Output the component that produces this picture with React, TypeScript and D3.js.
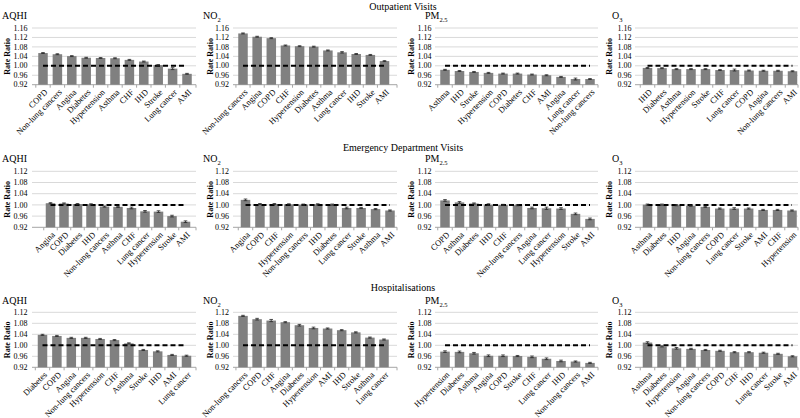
import React from "react";
import * as d3 from "d3";

// ---------- Data ----------
const rowTitles = ["Outpatient Visits", "Emergency Department Visits", "Hospitalisations"];
const pollutants = ["AQHI", "NO2", "PM2.5", "O3"];
const ticksRow1 = [0.92, 0.96, 1.0, 1.04, 1.08, 1.12, 1.16];
const ticksRow23 = [0.92, 0.96, 1.0, 1.04, 1.08, 1.12];

// Outpatient visits
const opAqhiCats = ["COPD", "Non-lung cancers", "Angina", "Diabetes", "Hypertension", "Asthma", "CHF", "IHD", "Stroke", "Lung cancer", "AMI"];
const opAqhiVals = [1.054, 1.049, 1.041, 1.034, 1.033, 1.032, 1.025, 1.018, 1.003, 0.988, 0.966];
const opAqhiErr = [0.002, 0.002, 0.002, 0.002, 0.002, 0.002, 0.002, 0.002, 0.002, 0.004, 0.002];

const opNo2Cats = ["Non-lung cancers", "Angina", "COPD", "CHF", "Hypertension", "Diabetes", "Asthma", "Lung cancer", "IHD", "Stroke", "AMI"];
const opNo2Vals = [1.137, 1.123, 1.117, 1.086, 1.083, 1.081, 1.065, 1.057, 1.050, 1.046, 1.020];
const opNo2Err = [0.002, 0.002, 0.002, 0.002, 0.002, 0.002, 0.002, 0.003, 0.002, 0.002, 0.002];

const opPm25Cats = ["Asthma", "IHD", "Stroke", "Hypertension", "COPD", "Diabetes", "CHF", "AMI", "Angina", "Lung cancer", "Non-lung cancers"];
const opPm25Vals = [0.983, 0.978, 0.974, 0.970, 0.967, 0.967, 0.963, 0.960, 0.953, 0.944, 0.944];
const opPm25Err = [0.002, 0.002, 0.002, 0.002, 0.002, 0.002, 0.002, 0.002, 0.002, 0.004, 0.002];

const opO3Cats = ["IHD", "Diabetes", "Asthma", "Hypertension", "Stroke", "CHF", "Lung cancer", "COPD", "Angina", "Non-lung cancers", "AMI"];
const opO3Vals = [0.991, 0.990, 0.986, 0.986, 0.986, 0.982, 0.982, 0.980, 0.979, 0.979, 0.977];
const opO3Err = [0.002, 0.002, 0.002, 0.002, 0.002, 0.002, 0.004, 0.002, 0.002, 0.002, 0.002];

// Emergency department visits
const edAqhiCats = ["Angina", "COPD", "Diabetes", "IHD", "Non-lung cancers", "Asthma", "CHF", "Lung cancer", "Hypertension", "Stroke", "AMI"];
const edAqhiVals = [1.006, 1.005, 1.003, 1.002, 0.994, 0.993, 0.989, 0.977, 0.976, 0.960, 0.940];
const edAqhiErr = [0.002, 0.002, 0.002, 0.002, 0.002, 0.002, 0.003, 0.003, 0.003, 0.003, 0.003];

const edNo2Cats = ["Angina", "COPD", "CHF", "Hypertension", "Non-lung cancers", "IHD", "Diabetes", "Lung cancer", "Stroke", "Asthma", "AMI"];
const edNo2Vals = [1.018, 1.003, 1.003, 1.002, 1.001, 1.002, 1.001, 0.989, 0.989, 0.985, 0.980];
const edNo2Err = [0.003, 0.002, 0.002, 0.002, 0.002, 0.002, 0.002, 0.003, 0.002, 0.002, 0.002];

const edPm25Cats = ["COPD", "Asthma", "Diabetes", "IHD", "CHF", "Non-lung cancers", "Angina", "Lung cancer", "Hypertension", "Stroke", "AMI"];
const edPm25Vals = [1.016, 1.009, 1.005, 1.001, 1.0, 0.999, 0.989, 0.988, 0.987, 0.968, 0.950];
const edPm25Err = [0.003, 0.003, 0.002, 0.003, 0.002, 0.002, 0.003, 0.004, 0.003, 0.003, 0.003];

const edO3Cats = ["Asthma", "Diabetes", "IHD", "Angina", "Non-lung cancers", "COPD", "Lung cancer", "Stroke", "AMI", "CHF", "Hypertension"];
const edO3Vals = [1.001, 1.001, 0.999, 0.997, 0.993, 0.987, 0.987, 0.987, 0.982, 0.982, 0.980];
const edO3Err = [0.002, 0.002, 0.002, 0.002, 0.002, 0.002, 0.003, 0.002, 0.002, 0.002, 0.002];

// Hospitalisations
const hoAqhiCats = ["Diabetes", "COPD", "Angina", "Non-lung cancers", "Hypertension", "CHF", "Asthma", "Stroke", "IHD", "AMI", "Lung cancer"];
const hoAqhiVals = [1.038, 1.034, 1.027, 1.027, 1.023, 1.019, 1.007, 0.983, 0.978, 0.965, 0.962];
const hoAqhiErr = [0.002, 0.002, 0.002, 0.002, 0.002, 0.002, 0.002, 0.002, 0.002, 0.002, 0.002];

const hoNo2Cats = ["Non-lung cancers", "COPD", "CHF", "Angina", "Diabetes", "Hypertension", "AMI", "IHD", "Stroke", "Asthma", "Lung cancer"];
const hoNo2Vals = [1.107, 1.095, 1.090, 1.084, 1.073, 1.063, 1.061, 1.055, 1.047, 1.028, 1.021];
const hoNo2Err = [0.002, 0.003, 0.004, 0.002, 0.003, 0.003, 0.002, 0.002, 0.002, 0.002, 0.002];

const hoPm25Cats = ["Hypertension", "Diabetes", "Asthma", "Angina", "COPD", "Stroke", "CHF", "Lung cancer", "IHD", "Non-lung cancers", "AMI"];
const hoPm25Vals = [0.977, 0.976, 0.971, 0.962, 0.962, 0.961, 0.958, 0.951, 0.943, 0.941, 0.936];
const hoPm25Err = [0.003, 0.003, 0.003, 0.003, 0.003, 0.002, 0.003, 0.003, 0.003, 0.002, 0.002];

const hoO3Cats = ["Asthma", "Diabetes", "Hypertension", "Angina", "Non-lung cancers", "COPD", "CHF", "IHD", "Lung cancer", "Stroke", "AMI"];
const hoO3Vals = [1.010, 0.996, 0.989, 0.987, 0.983, 0.980, 0.975, 0.975, 0.973, 0.969, 0.960];
const hoO3Err = [0.003, 0.002, 0.003, 0.002, 0.002, 0.002, 0.002, 0.002, 0.002, 0.002, 0.002];

const panelData = [
  [
    [opAqhiCats, opAqhiVals, opAqhiErr],
    [opNo2Cats, opNo2Vals, opNo2Err],
    [opPm25Cats, opPm25Vals, opPm25Err],
    [opO3Cats, opO3Vals, opO3Err],
  ],
  [
    [edAqhiCats, edAqhiVals, edAqhiErr],
    [edNo2Cats, edNo2Vals, edNo2Err],
    [edPm25Cats, edPm25Vals, edPm25Err],
    [edO3Cats, edO3Vals, edO3Err],
  ],
  [
    [hoAqhiCats, hoAqhiVals, hoAqhiErr],
    [hoNo2Cats, hoNo2Vals, hoNo2Err],
    [hoPm25Cats, hoPm25Vals, hoPm25Err],
    [hoO3Cats, hoO3Vals, hoO3Err],
  ],
] as [string[], number[], number[]][][];

// ---------- Layout ----------
const W = 800;
const H = 418;
const FONT = "'Liberation Serif', 'Times New Roman', serif";
const colGridLeft = [32, 233, 435, 635];
const colGridRight = [196, 397, 598, 798];
const colTickRight = [27.5, 229, 431.5, 631.5];
const panelFirst = [
  [43, 243, 445, 647.5],
  [50.5, 245.5, 445, 647.5],
  [42.5, 243, 445, 647.5],
];
const panelLast = [
  [187, 384.5, 590, 792.5],
  [185.5, 390, 590, 792],
  [186.5, 384, 590, 792.5],
];
const colTitleX = [2, 203, 425, 612];
const colRateX = [7, 210.5, 411.5, 609.5];
const rowTop = [28, 171.3, 312.3];
const rowBottom = [84.7, 227.3, 367.3];
const rowTitleY = [9.5, 150.5, 290.5];
const rowPanelTitleY = [19, 162, 304];
const BAR_W = 9.5;

function PanelTitle({ name, x, y }: { name: string; x: number; y: number }) {
  if (name === "NO2" || name === "O3") {
    return (
      <text x={x} y={y} fontSize={10} fontFamily={FONT} fill="#000">
        {name.slice(0, name.length - 1)}
        <tspan fontSize={6.5} dy={2.5}>{name.slice(-1)}</tspan>
      </text>
    );
  }
  if (name === "PM2.5") {
    return (
      <text x={x} y={y} fontSize={10} fontFamily={FONT} fill="#000">
        PM
        <tspan fontSize={6.5} dy={2.5}>2.5</tspan>
      </text>
    );
  }
  return (
    <text x={x} y={y} fontSize={10} fontFamily={FONT} fill="#000">
      {name}
    </text>
  );
}

function Panel({ r, c }: { r: number; c: number }) {
  const [cats, vals, errs] = panelData[r][c];
  const ticks = r === 0 ? ticksRow1 : ticksRow23;
  const y = d3
    .scaleLinear()
    .domain([ticks[0], ticks[ticks.length - 1]])
    .range([rowBottom[r], rowTop[r]]);
  const first = panelFirst[r][c];
  const last = panelLast[r][c];
  const x = d3.scalePoint<string>().domain(cats).range([first, last]);
  const step = x.step();
  const left = colGridLeft[c];
  const right = colGridRight[c];
  const base = y(ticks[0]);
  const one = y(1.0);
  return (
    <g>
      <PanelTitle name={pollutants[c]} x={colTitleX[c]} y={rowPanelTitleY[r]} />
      {ticks.map((t) => (
        <g key={t}>
          <line
            x1={left}
            x2={right}
            y1={y(t)}
            y2={y(t)}
            stroke={t === ticks[0] ? "#a6a6a6" : "#d9d9d9"}
            strokeWidth={1}
          />
          <text
            x={colTickRight[c]}
            y={y(t)}
            dy="0.33em"
            textAnchor="end"
            fontSize={8}
            fontFamily={FONT}
            fill="#000"
          >
            {d3.format(".2f")(t)}
          </text>
        </g>
      ))}
      {cats.map((cat) => (
        <line
          key={"tk" + cat}
          x1={x(cat)! - step / 2}
          x2={x(cat)! - step / 2}
          y1={base}
          y2={base + 3}
          stroke="#a6a6a6"
        />
      ))}
      <line x1={right} x2={right} y1={base} y2={base + 3} stroke="#a6a6a6" />
      <text
        transform={`translate(${colRateX[c]},${(rowTop[r] + rowBottom[r]) / 2}) rotate(-90)`}
        textAnchor="middle"
        dy="0.33em"
        fontSize={8}
        fontWeight="bold"
        fontFamily={FONT}
        fill="#000"
      >
        Rate Ratio
      </text>
      {cats.map((cat, i) => {
        const cx = x(cat)!;
        const v = vals[i];
        const top = Math.min(y(v), base);
        return (
          <rect
            key={"b" + cat}
            x={cx - BAR_W / 2}
            y={top}
            width={BAR_W}
            height={Math.abs(base - y(v))}
            fill="#808080"
          />
        );
      })}
      <line
        x1={first}
        x2={last}
        y1={one}
        y2={one}
        stroke="#000"
        strokeWidth={2}
        strokeDasharray="5,3"
      />
      {cats.map((cat, i) => {
        const cx = x(cat)!;
        const v = vals[i];
        const e = errs[i];
        return (
          <g key={"e" + cat} stroke="#262626" strokeWidth={0.8}>
            <line x1={cx} x2={cx} y1={y(v - e)} y2={y(v + e)} />
            <line x1={cx - 1.8} x2={cx + 1.8} y1={y(v - e)} y2={y(v - e)} />
            <line x1={cx - 1.8} x2={cx + 1.8} y1={y(v + e)} y2={y(v + e)} />
          </g>
        );
      })}
      {cats.map((cat) => {
        const cx = x(cat)!;
        return (
          <text
            key={"l" + cat}
            transform={`translate(${cx + 2},${base + 5}) rotate(-45)`}
            textAnchor="end"
            dy="0.5em"
            fontSize={8.5}
            fontFamily={FONT}
            fill="#000"
          >
            {cat}
          </text>
        );
      })}
    </g>
  );
}

export default function App() {
  return (
    <svg
      width={W}
      height={H}
      style={{ position: "absolute", left: 0, top: 0, background: "#fff" }}
    >
      <rect width={W} height={H} fill="#fff" />
      {rowTitles.map((t, r) => (
        <text
          key={t}
          x={403}
          y={rowTitleY[r]}
          textAnchor="middle"
          fontSize={10}
          fontFamily={FONT}
          fill="#000"
        >
          {t}
        </text>
      ))}
      {[0, 1, 2].map((r) =>
        [0, 1, 2, 3].map((c) => <Panel key={r + "-" + c} r={r} c={c} />)
      )}
    </svg>
  );
}
